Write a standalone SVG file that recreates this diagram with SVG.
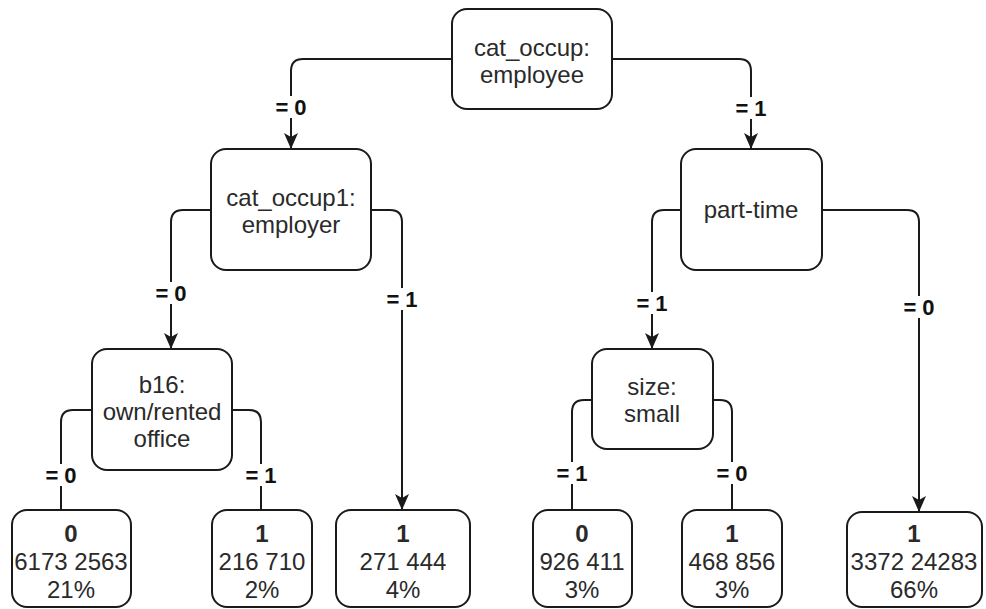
<svg xmlns="http://www.w3.org/2000/svg" width="986" height="609" viewBox="0 0 986 609">
  <defs>
    <style>
      .box { fill: #ffffff; stroke: #1a1a1a; stroke-width: 2; }
      .edge { fill: none; stroke: #1a1a1a; stroke-width: 2; }
      .t { font-family: "Liberation Sans", Arial, sans-serif; font-size: 24px; fill: #2a2a2a; text-anchor: middle; }
      .tb { font-weight: bold; }
      .lbl { font-family: "Liberation Sans", Arial, sans-serif; font-size: 22px; font-weight: bold; fill: #111111; text-anchor: middle; }
      .lblbg { fill: #ffffff; }
    </style>
    <marker id="arrow" viewBox="-17 -8 18 16" markerWidth="18" markerHeight="16" refX="0" refY="0" orient="auto" markerUnits="userSpaceOnUse">
      <path d="M0,0 L-16,-7 L-12,0 L-16,7 Z" fill="#1a1a1a"/>
    </marker>
  </defs>
  <rect width="986" height="609" fill="#ffffff"/>

  <!-- connectors -->
  <g id="connectors">
    <path class="edge" d="M452,59 H303 Q291,59 291,71 V149" marker-end="url(#arrow)"/>
    <path class="edge" d="M612,59 H739 Q751,59 751,71 V149" marker-end="url(#arrow)"/>
    <path class="edge" d="M211,210 H183 Q171,210 171,222 V349" marker-end="url(#arrow)"/>
    <path class="edge" d="M371,210 H390 Q402,210 402,222 V510" marker-end="url(#arrow)"/>
    <path class="edge" d="M92,410 H73 Q61,410 61,422 V510"/>
    <path class="edge" d="M232,410 H249 Q261,410 261,422 V510"/>
    <path class="edge" d="M681,210 H664 Q652,210 652,222 V349" marker-end="url(#arrow)"/>
    <path class="edge" d="M822,210 H907 Q919,210 919,222 V512" marker-end="url(#arrow)"/>
    <path class="edge" d="M592,400 H584 Q572,400 572,412 V510"/>
    <path class="edge" d="M713,400 H720 Q732,400 732,412 V510"/>

    <!-- edge labels -->
    <rect class="lblbg" x="273" y="96" width="36" height="22"/>
    <text class="lbl" x="291" y="115">= 0</text>
    <rect class="lblbg" x="733" y="97" width="36" height="22"/>
    <text class="lbl" x="751" y="116">= 1</text>
    <rect class="lblbg" x="153" y="282" width="36" height="22"/>
    <text class="lbl" x="171" y="301">= 0</text>
    <rect class="lblbg" x="384" y="288" width="36" height="22"/>
    <text class="lbl" x="402" y="307">= 1</text>
    <rect class="lblbg" x="634" y="292" width="36" height="22"/>
    <text class="lbl" x="652" y="311">= 1</text>
    <rect class="lblbg" x="901" y="296" width="36" height="22"/>
    <text class="lbl" x="919" y="315">= 0</text>
    <rect class="lblbg" x="43" y="464" width="36" height="22"/>
    <text class="lbl" x="61" y="483">= 0</text>
    <rect class="lblbg" x="243" y="464" width="36" height="22"/>
    <text class="lbl" x="261" y="483">= 1</text>
    <rect class="lblbg" x="554" y="462" width="36" height="22"/>
    <text class="lbl" x="572" y="481">= 1</text>
    <rect class="lblbg" x="714" y="462" width="36" height="22"/>
    <text class="lbl" x="732" y="481">= 0</text>
  </g>

  <!-- split nodes -->
  <g id="root">
    <rect class="box" x="452" y="9" width="160" height="100" rx="15"/>
    <text class="t" x="532" y="56">cat_occup:</text>
    <text class="t" x="532" y="83">employee</text>
  </g>
  <g id="employer">
    <rect class="box" x="211" y="149" width="160" height="121" rx="15"/>
    <text class="t" x="291" y="206">cat_occup1:</text>
    <text class="t" x="291" y="233">employer</text>
  </g>
  <g id="parttime">
    <rect class="box" x="681" y="149" width="141" height="121" rx="15"/>
    <text class="t" x="751" y="218">part-time</text>
  </g>
  <g id="office">
    <rect class="box" x="92" y="349" width="140" height="121" rx="15"/>
    <text class="t" x="162" y="393">b16:</text>
    <text class="t" x="162" y="420">own/rented</text>
    <text class="t" x="162" y="447">office</text>
  </g>
  <g id="size">
    <rect class="box" x="592" y="349" width="121" height="100" rx="15"/>
    <text class="t" x="652" y="395">size:</text>
    <text class="t" x="652" y="422">small</text>
  </g>

  <!-- leaves -->
  <g id="leaf1">
    <rect class="box" x="12" y="510" width="119" height="97" rx="15"/>
    <text class="t tb" x="71" y="542">0</text>
    <text class="t" x="71" y="570">6173 2563</text>
    <text class="t" x="71" y="598">21%</text>
  </g>
  <g id="leaf2">
    <rect class="box" x="212" y="510" width="100" height="97" rx="15"/>
    <text class="t tb" x="262" y="542">1</text>
    <text class="t" x="262" y="570">216 710</text>
    <text class="t" x="262" y="598">2%</text>
  </g>
  <g id="leaf3">
    <rect class="box" x="336" y="510" width="134" height="97" rx="15"/>
    <text class="t tb" x="403" y="542">1</text>
    <text class="t" x="403" y="570">271 444</text>
    <text class="t" x="403" y="598">4%</text>
  </g>
  <g id="leaf4">
    <rect class="box" x="533" y="510" width="99" height="97" rx="15"/>
    <text class="t tb" x="582" y="542">0</text>
    <text class="t" x="582" y="570">926 411</text>
    <text class="t" x="582" y="598">3%</text>
  </g>
  <g id="leaf5">
    <rect class="box" x="682" y="510" width="100" height="97" rx="15"/>
    <text class="t tb" x="732" y="542">1</text>
    <text class="t" x="732" y="570">468 856</text>
    <text class="t" x="732" y="598">3%</text>
  </g>
  <g id="leaf6">
    <rect class="box" x="847" y="512" width="135" height="95" rx="15"/>
    <text class="t tb" x="914" y="542">1</text>
    <text class="t" x="914" y="570">3372 24283</text>
    <text class="t" x="914" y="598">66%</text>
  </g>
</svg>
